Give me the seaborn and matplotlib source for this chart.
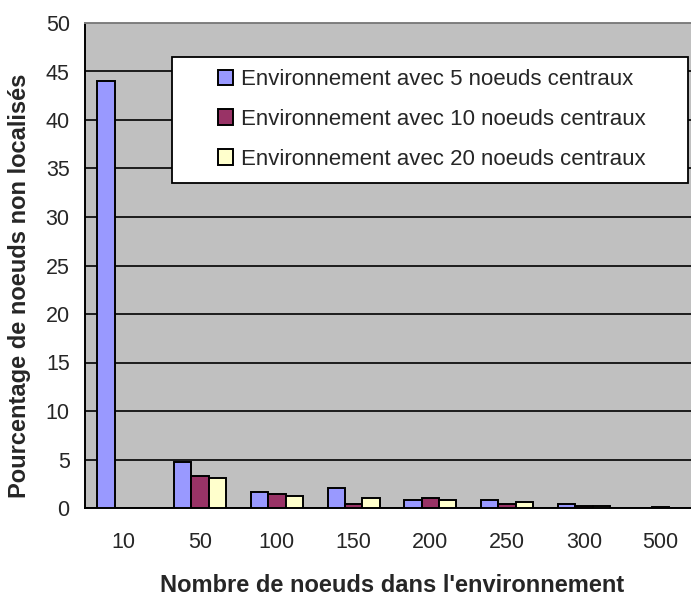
import numpy as np
import pandas as pd
import matplotlib
matplotlib.use("Agg")
import matplotlib.pyplot as plt
import seaborn as sns
from matplotlib.patches import Rectangle

# ----------------------------------------------------------------------------
# data
# ----------------------------------------------------------------------------
categories = ["10", "50", "100", "150", "200", "250", "300", "500"]
env5 = [44.0, 4.75, 1.6, 2.05, 0.8, 0.8, 0.4, 0.0]
env10 = [0.0, 3.3, 1.4, 0.4, 1.0, 0.4, 0.2, 0.15]
env20 = [0.0, 3.1, 1.2, 1.0, 0.8, 0.65, 0.2, 0.0]
series_names = [
    "Environnement avec 5 noeuds centraux",
    "Environnement avec 10 noeuds centraux",
    "Environnement avec 20 noeuds centraux",
]
colors = ["#9999FF", "#993366", "#FFFFCC"]

df = pd.DataFrame({
    "taille": categories * 3,
    "pct": env5 + env10 + env20,
    "env": [s for s in series_names for _ in categories],
})

sns.set_style("white")
plt.rcParams["font.family"] = ["Liberation Sans", "DejaVu Sans"]

W, H = 691, 596
fig = plt.figure(figsize=(W / 100, H / 100), dpi=100)
ax = fig.add_axes([85 / W, 88 / H, 614 / W, 485 / H])
ax.set_facecolor("#C0C0C0")

sns.barplot(
    data=df, x="taille", y="pct", hue="env",
    order=categories, hue_order=series_names, palette=colors,
    width=0.68, edgecolor="black", linewidth=1.4, saturation=1,
    ax=ax, zorder=3,
)

handles, labels = ax.get_legend_handles_labels()
if ax.get_legend() is not None:
    ax.get_legend().remove()

# grid + axes
ax.set_axisbelow(True)
ax.yaxis.grid(True, color="black", linewidth=1.2)
ax.xaxis.grid(False)
ax.set_ylim(0, 50)
ax.set_yticks(np.arange(0, 51, 5))
ax.set_xlim(-0.5, 7.5)
ax.set_xticks(range(len(categories)))
ax.set_xticklabels(categories)
ax.set_xticks(np.arange(-0.5, len(categories), 1), minor=True)
ax.tick_params(axis="x", which="major", length=0, pad=17, labelsize=15.5)
ax.tick_params(axis="x", which="minor", length=7, width=1.3, direction="out", color="black")
ax.tick_params(axis="y", length=7, width=1.3, direction="out", color="black", pad=4, labelsize=15.5)

for side in ["left", "bottom"]:
    ax.spines[side].set_color("black")
    ax.spines[side].set_linewidth(1.4)
ax.spines["top"].set_color("#808080")
ax.spines["top"].set_linewidth(1.4)
ax.spines["right"].set_visible(False)

ax.set_xlabel("Nombre de noeuds dans l'environnement", fontsize=17, fontweight="bold")
ax.set_ylabel("Pourcentage de noeuds non localisés", fontsize=17, fontweight="bold")
ax.xaxis.set_label_coords(0.5, -0.136)
ax.yaxis.set_label_coords(-0.088, 0.458)

# legend box
box = Rectangle(
    (172 / W, 1 - 183 / H), (688 - 172) / W, 126 / H,
    transform=fig.transFigure, facecolor="white", edgecolor="black",
    linewidth=1.3, zorder=4, clip_on=False,
)
ax.add_artist(box)
leg = ax.legend(
    handles, labels, loc="upper left",
    bbox_to_anchor=(218 / W, 1 - 69 / H), bbox_transform=fig.transFigure,
    frameon=False, fontsize=16, handlelength=0.68, handleheight=0.68,
    handletextpad=0.36, labelspacing=0.85, borderpad=0, borderaxespad=0,
)
leg.set_zorder(5)

fig.savefig("out.png", dpi=100)
